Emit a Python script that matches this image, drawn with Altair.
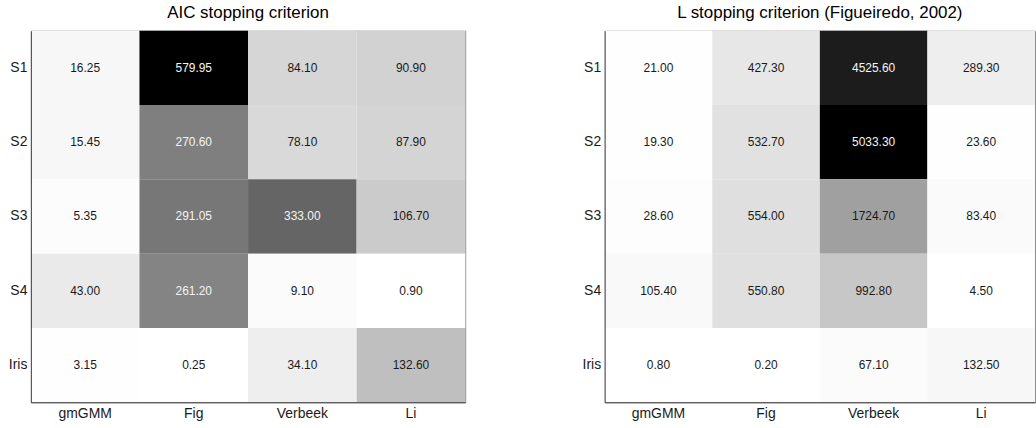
import altair as alt
import pandas as pd

rows = ["S1", "S2", "S3", "S4", "Iris"]
methods = ["gmGMM", "Fig", "Verbeek", "Li"]

# AIC stopping criterion, one list per method (rows S1..S4, Iris)
aic_gmgmm = [16.25, 15.45, 5.35, 43.00, 3.15]
aic_fig = [579.95, 270.60, 291.05, 261.20, 0.25]
aic_verbeek = [84.10, 78.10, 333.00, 9.10, 34.10]
aic_li = [90.90, 87.90, 106.70, 0.90, 132.60]

# L stopping criterion (Figueiredo, 2002)
l_gmgmm = [21.00, 19.30, 28.60, 105.40, 0.80]
l_fig = [427.30, 532.70, 554.00, 550.80, 0.20]
l_verbeek = [4525.60, 5033.30, 1724.70, 992.80, 67.10]
l_li = [289.30, 23.60, 83.40, 4.50, 132.50]

FONT = "Liberation Sans"


def to_long(cols):
    recs = []
    for m, vals in zip(methods, cols):
        for r, v in zip(rows, vals):
            recs.append({"method": m, "row": r, "value": v})
    return pd.DataFrame(recs)


def panel(df, title, width, height):
    vmin, vmax = df["value"].min(), df["value"].max()
    base = alt.Chart(df).encode(
        x=alt.X("method:N", sort=methods, title=None,
                axis=alt.Axis(labelAngle=0, ticks=False, labelPadding=4,
                              labelFontSize=14, labelFont=FONT, labelColor="#1a1a1a",
                              domainColor="#404040")),
        y=alt.Y("row:N", sort=rows, title=None,
                axis=alt.Axis(ticks=False, labelPadding=4, labelFontSize=14,
                              labelFont=FONT, labelColor="#1a1a1a",
                              domainColor="#404040", minExtent=25, maxExtent=25)),
    )
    cells = base.mark_rect(stroke=None).encode(
        color=alt.Color("value:Q", legend=None,
                        scale=alt.Scale(domain=[vmin, vmax],
                                        range=["#ffffff", "#000000"])),
    )
    labels = base.mark_text(font=FONT, fontSize=12).encode(
        text=alt.Text("value:Q", format=".2f"),
        color=alt.condition(alt.datum.value > 0.4 * vmax,
                            alt.value("#f4f4f4"), alt.value("#1a1a1a")),
    )
    return alt.layer(cells, labels).properties(
        width=width, height=height,
        title=alt.TitleParams(title, fontSize=17, font=FONT, fontWeight="normal",
                              anchor="middle", offset=-4, baseline="alphabetic",
                              color="#000"),
    )


left = panel(to_long([aic_gmgmm, aic_fig, aic_verbeek, aic_li]),
             "AIC stopping criterion", 436, 373)
right = panel(to_long([l_gmgmm, l_fig, l_verbeek, l_li]),
              "L stopping criterion (Figueiredo, 2002)", 432, 373)

chart = (
    alt.hconcat(left, right, spacing=113)
    .resolve_scale(color="independent")
    .properties(padding={"left": 5, "top": 2, "right": 0, "bottom": 0},
                background="white")
    .configure_view(stroke="#8c8c8c", strokeWidth=1)
)

chart.save("out.html", embed_options={"renderer": "svg", "actions": False})
